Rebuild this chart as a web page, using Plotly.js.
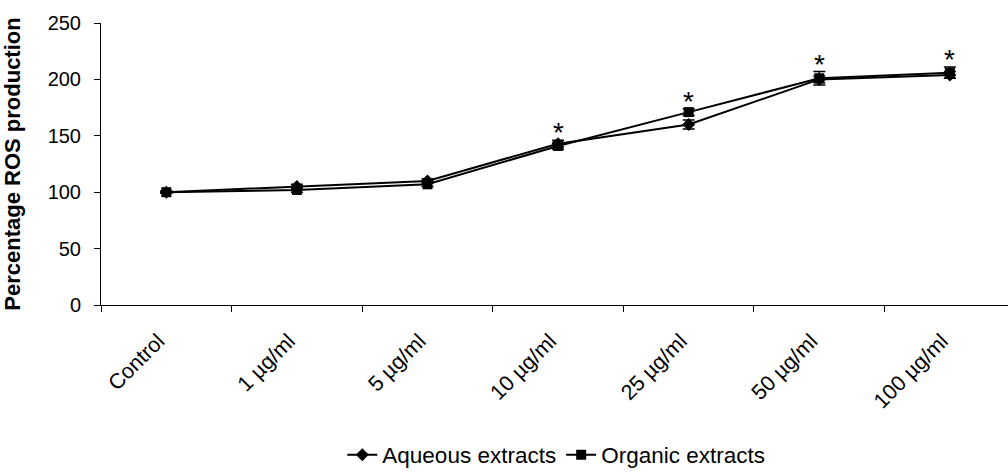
<!DOCTYPE html>
<html>
<head>
<meta charset="utf-8">
<script src="https://cdn.plot.ly/plotly-3.0.1.min.js"></script>
<style>html,body{margin:0;padding:0;background:#fff;}#chart{width:1008px;height:472px;}</style>
</head>
<body>
<div id="chart"></div>
<script>
const categories = ["Control", "1 µg/ml", "5 µg/ml", "10 µg/ml", "25 µg/ml", "50 µg/ml", "100 µg/ml"];
const aqueous = [100, 105, 110, 143, 160, 200, 204];
const aqueousErr = [1, 2, 2, 3, 4, 3, 3];
const organic = [100, 102, 107, 141, 171, 201, 206];
const organicErr = [1, 2, 2, 3, 3, 6, 5];
const significant = [false, false, false, true, true, true, true];

const annotations = [];
categories.forEach((c, i) => {
  if (significant[i]) {
    annotations.push({
      x: c, y: Math.max(aqueous[i] + aqueousErr[i], organic[i] + organicErr[i]),
      xref: 'x', yref: 'y', text: '*', showarrow: false,
      yanchor: 'bottom', yshift: -10,
      font: {family: 'Liberation Sans, Arial, sans-serif', size: 28, color: '#000'}
    });
  }
});

const traces = [
  {
    x: categories, y: aqueous, name: 'Aqueous extracts', type: 'scatter', mode: 'lines+markers',
    line: {color: '#000', width: 2},
    marker: {symbol: 'diamond', size: 10, color: '#000'},
    error_y: {type: 'data', array: aqueousErr, color: '#000', thickness: 1.5, width: 6}
  },
  {
    x: categories, y: organic, name: 'Organic extracts', type: 'scatter', mode: 'lines+markers',
    line: {color: '#000', width: 2},
    marker: {symbol: 'square', size: 10, color: '#000'},
    error_y: {type: 'data', array: organicErr, color: '#000', thickness: 1.5, width: 6}
  }
];

const layout = {
  width: 1008, height: 472,
  margin: {l: 101, r: 0, t: 23, b: 167},
  paper_bgcolor: '#fff', plot_bgcolor: '#fff',
  font: {family: 'Liberation Sans, Arial, sans-serif', size: 20, color: '#000'},
  showlegend: true,
  legend: {orientation: 'h', xref: 'paper', x: 0.502, xanchor: 'center',
    yref: 'container', y: 0.036, yanchor: 'middle',
    font: {size: 22.5}, tracegroupgap: 0},
  xaxis: {
    type: 'category', range: [-0.5, 6.445], showgrid: false, zeroline: false,
    showline: true, linecolor: '#000', linewidth: 1,
    ticks: 'outside', ticklen: 6, tickcolor: '#000', tickson: 'boundaries',
    tickangle: -45, tickfont: {size: 21.5}, ticklabelstandoff: 14, ticklabelshift: -8,
    automargin: false
  },
  yaxis: {
    range: [0, 250], dtick: 50, showgrid: false, zeroline: false,
    showline: true, linecolor: '#000', linewidth: 1,
    ticks: 'outside', ticklen: 6, tickcolor: '#000', tickfont: {size: 20},
    ticklabelstandoff: 9, automargin: false,
    title: {text: '<b>Percentage ROS production</b>', font: {size: 22}, standoff: 20}
  },
  annotations: annotations
};

Plotly.newPlot('chart', traces, layout, {displayModeBar: false, staticPlot: true});
</script>
</body>
</html>
